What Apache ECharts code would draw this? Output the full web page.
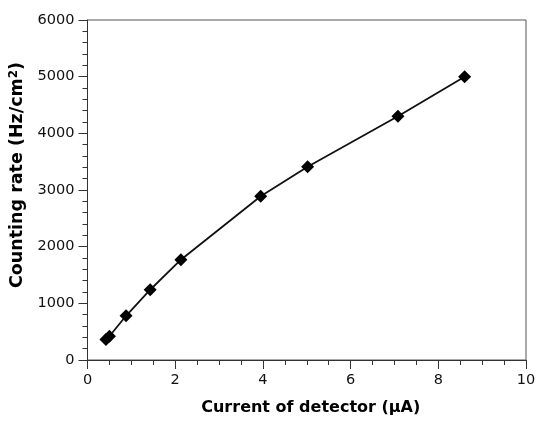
<!DOCTYPE html>
<html>
<head>
<meta charset="utf-8">
<script src="https://cdn.jsdelivr.net/npm/echarts@6/dist/echarts.min.js"></script>
<style>
html, body { margin: 0; padding: 0; background: #fff; }
#chart { width: 550px; height: 424px; }
</style>
</head>
<body>
<div id="chart"></div>
<script>
// detector current (uA) vs counting rate (Hz/cm2)
const currents = [0.42, 0.5, 0.88, 1.43, 2.13, 3.95, 5.02, 7.08, 8.6];
const rates = [360, 420, 780, 1240, 1770, 2890, 3410, 4300, 5000];

const xTitle = 'Current of detector (μA)';
const yTitle = 'Counting rate (Hz/cm{sup|2})';

const points = currents.map((x, i) => [x, rates[i]]);

const font = 'DejaVu Sans';

const option = {
    animation: false,
    backgroundColor: '#fff',
    grid: {
        left: 87.5,
        right: 24,
        top: 20,
        bottom: 64,
        show: true,
        borderColor: '#555',
        borderWidth: 1
    },
    xAxis: {
        type: 'value',
        min: 0,
        max: 10,
        interval: 2,
        name: xTitle,
        nameLocation: 'middle',
        nameGap: 40,
        nameTextStyle: { fontFamily: font, fontWeight: 'bold', fontSize: 16, color: '#000', padding: [0, 0, 0, 8] },
        axisLine: { lineStyle: { color: '#333', width: 1 } },
        axisTick: { show: true, length: 9, lineStyle: { color: '#333' } },
        minorTick: { show: true, splitNumber: 4, length: 5, lineStyle: { color: '#333' } },
        axisLabel: { fontFamily: font, fontSize: 14.5, color: '#111', margin: 13 },
        splitLine: { show: false }
    },
    yAxis: {
        type: 'value',
        min: 0,
        max: 6000,
        interval: 1000,
        name: yTitle,
        nameLocation: 'middle',
        nameGap: 57,
        nameTextStyle: {
            fontFamily: font, fontWeight: 'bold', fontSize: 17.5, color: '#000',
            padding: [0, 0, 0, 30],
            rich: {
                sup: { fontFamily: font, fontWeight: 'bold', fontSize: 12, color: '#000', verticalAlign: 'top', padding: [0, 0, 7, 0] }
            }
        },
        axisLine: { show: true, lineStyle: { color: '#333', width: 1 } },
        axisTick: { show: true, length: 9, lineStyle: { color: '#333' } },
        minorTick: { show: true, splitNumber: 5, length: 5, lineStyle: { color: '#333' } },
        axisLabel: { fontFamily: font, fontSize: 14.5, color: '#111', margin: 13, formatter: (v) => String(v) },
        splitLine: { show: false }
    },
    series: [
        {
            type: 'line',
            data: points,
            symbol: 'diamond',
            symbolSize: 13,
            itemStyle: { color: '#000' },
            lineStyle: { color: '#111', width: 1.8 }
        }
    ]
};

const chart = echarts.init(document.getElementById('chart'));
chart.setOption(option);
</script>
</body>
</html>
